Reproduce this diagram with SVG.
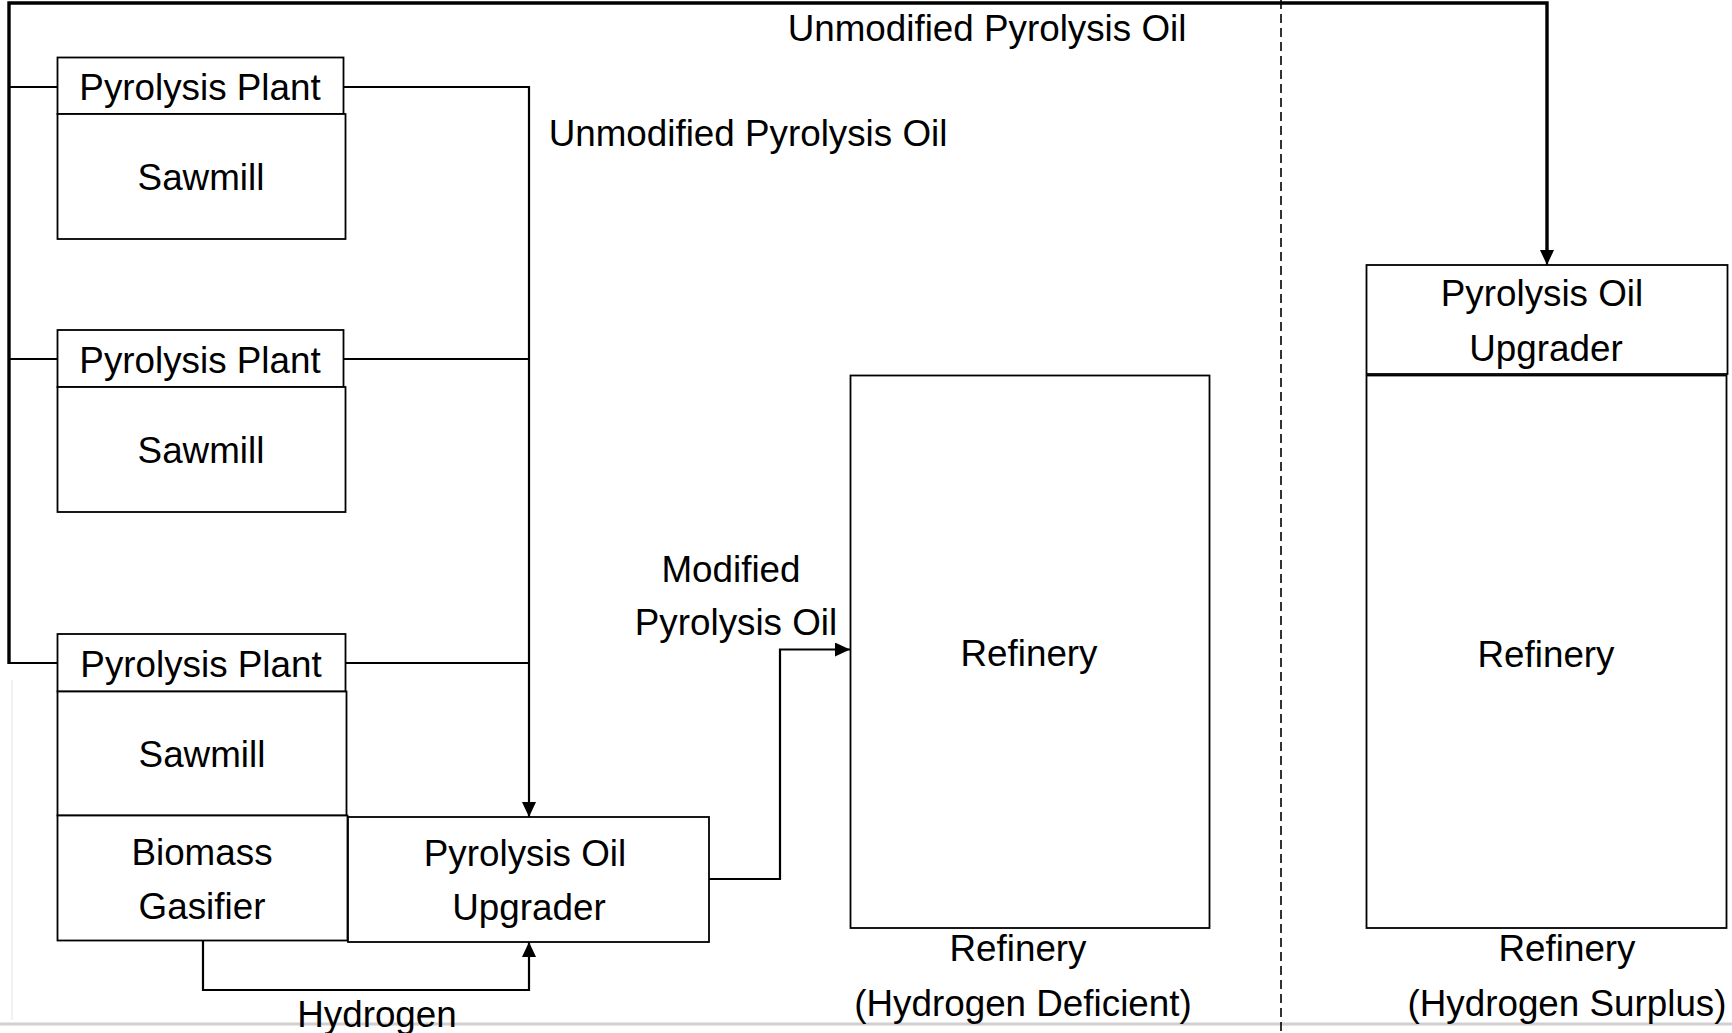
<svg xmlns="http://www.w3.org/2000/svg" width="1732" height="1033" viewBox="0 0 1732 1033">
<style>
  .box{fill:#fff;stroke:#000;stroke-width:1.8}
  .t{font-family:"Liberation Sans",Arial,sans-serif;font-size:36.8px;fill:#000;text-anchor:middle}
  .c{fill:none;stroke:#000;stroke-width:2.2}
  .ct{fill:none;stroke:#000;stroke-width:3.4}
</style>
<defs>
  <marker id="ah" markerUnits="userSpaceOnUse" markerWidth="16" markerHeight="14" refX="15" refY="7" orient="auto">
    <path d="M0,0 L15,7 L0,14 Z" fill="#000"/>
  </marker>
</defs>
<rect width="1732" height="1033" fill="#fff"/>
<line x1="0" y1="1024" x2="1732" y2="1024" stroke="#d0d0d0" stroke-width="3"/>
<line x1="12" y1="680" x2="12" y2="1020" stroke="#eeeeee" stroke-width="1.5"/>
<line x1="1281" y1="0" x2="1281" y2="1033" stroke="#000" stroke-width="1.6" stroke-dasharray="9,5"/>

<g id="connectors">
  <path class="ct" d="M9,664 L9,3 L1547,3 L1547,252"/>
  <path class="c" d="M1547,248 L1547,265" marker-end="url(#ah)"/>
  <path class="c" d="M9,87 L57,87"/>
  <path class="c" d="M9,359 L57,359"/>
  <path class="c" d="M9,663 L57,663"/>
  <path class="c" d="M344,87 L529,87 L529,817" marker-end="url(#ah)"/>
  <path class="c" d="M344,359 L529,359"/>
  <path class="c" d="M346,663 L529,663"/>
  <path class="c" d="M203,941 L203,990 L529,990 L529,942" marker-end="url(#ah)"/>
  <path class="c" d="M709,879 L780,879 L780,649.5 L850,649.5" marker-end="url(#ah)"/>
</g>

<g id="pp1"><rect class="box" x="57.5" y="57.5" width="286" height="56.5"/><text class="t" x="200" y="100">Pyrolysis Plant</text></g>
<g id="sawmill1"><rect class="box" x="57.5" y="114" width="288" height="125"/><text class="t" x="201" y="190">Sawmill</text></g>

<g id="pp2"><rect class="box" x="57.5" y="330" width="286" height="57"/><text class="t" x="200" y="373">Pyrolysis Plant</text></g>
<g id="sawmill2"><rect class="box" x="57.5" y="387" width="288" height="125"/><text class="t" x="201" y="463">Sawmill</text></g>

<g id="pp3"><rect class="box" x="57.5" y="634" width="288" height="57.5"/><text class="t" x="201" y="677">Pyrolysis Plant</text></g>
<g id="sawmill3"><rect class="box" x="57.5" y="691.5" width="289" height="124"/><text class="t" x="202" y="767">Sawmill</text></g>
<g id="gasifier"><rect class="box" x="57.5" y="815.5" width="290" height="125"/><text class="t" x="202" y="865">Biomass</text><text class="t" x="202" y="919">Gasifier</text></g>
<g id="upgrader1"><rect class="box" x="348" y="817" width="361" height="125"/><text class="t" x="525" y="866">Pyrolysis Oil</text><text class="t" x="529" y="920">Upgrader</text></g>

<g id="refinery1"><rect class="box" x="850.5" y="375.5" width="359" height="552.5"/><text class="t" x="1029" y="666">Refinery</text></g>
<g id="upgrader2"><rect class="box" x="1366.5" y="265" width="361" height="109"/><text class="t" x="1542" y="306">Pyrolysis Oil</text><text class="t" x="1546" y="361">Upgrader</text></g>
<g id="refinery2"><rect class="box" x="1366.5" y="375.5" width="360" height="552.5"/><text class="t" x="1546" y="667">Refinery</text></g>

<g id="labels">
  <text class="t" x="987" y="41">Unmodified Pyrolysis Oil</text>
  <text class="t" x="748" y="146">Unmodified Pyrolysis Oil</text>
  <text class="t" x="731" y="582">Modified</text>
  <text class="t" x="736" y="635">Pyrolysis Oil</text>
  <text class="t" x="377" y="1027">Hydrogen</text>
  <text class="t" x="1018" y="961">Refinery</text>
  <text class="t" x="1023" y="1016">(Hydrogen Deficient)</text>
  <text class="t" x="1567" y="961">Refinery</text>
  <text class="t" x="1567" y="1016">(Hydrogen Surplus)</text>
</g>
</svg>
